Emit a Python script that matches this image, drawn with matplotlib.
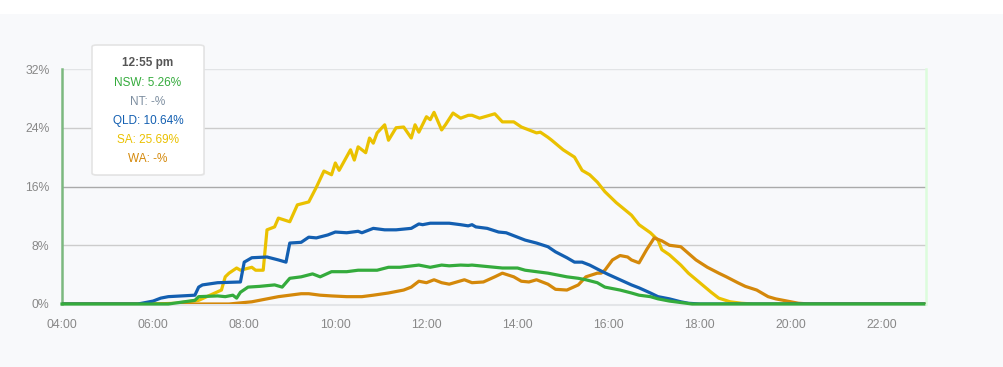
import matplotlib
matplotlib.use("Agg")
import matplotlib.pyplot as plt
from matplotlib.patches import FancyBboxPatch, Rectangle

plt.rcParams['font.family'] = ['Liberation Sans', 'DejaVu Sans']

# ---------------- data (percent of demand, by time of day) ----------------
nsw_times = ["04:00", "06:20", "06:55", "07:00", "07:25", "07:35", "07:45", "07:50", "07:55", "08:05",
             "08:20", "08:40", "08:50", "09:00", "09:15", "09:30", "09:40", "09:55", "10:15", "10:30",
             "10:55", "11:10", "11:25", "11:50", "12:05", "12:20", "12:30", "12:45", "12:55", "13:00",
             "13:10", "13:30", "13:40", "14:00", "14:10", "14:25", "14:40", "14:50", "15:05", "15:20",
             "15:30", "15:45", "15:55", "16:15", "16:30", "16:40", "16:55", "17:05", "17:20", "17:35",
             "17:50", "22:55"]
nsw_vals = [0, 0, 0.5, 1.0, 1.1, 1.0, 1.2, 0.8, 1.6, 2.3,
            2.4, 2.6, 2.3, 3.5, 3.7, 4.1, 3.7, 4.4, 4.4, 4.6,
            4.6, 5.0, 5.0, 5.3, 5.0, 5.3, 5.2, 5.3, 5.26, 5.3,
            5.2, 5.0, 4.9, 4.9, 4.6, 4.4, 4.2, 4.0, 3.7, 3.5,
            3.3, 2.9, 2.3, 1.9, 1.5, 1.2, 1.0, 0.7, 0.4, 0.2,
            0, 0]

qld_times = ["04:00", "05:40", "06:00", "06:10", "06:20", "06:55", "07:00", "07:05", "07:25", "07:55",
             "08:00", "08:05", "08:10", "08:30", "08:45", "08:55", "09:00", "09:15", "09:25", "09:35",
             "09:50", "10:00", "10:15", "10:30", "10:35", "10:50", "11:05", "11:20", "11:40", "11:50",
             "11:55", "12:05", "12:15", "12:30", "12:45", "12:55", "13:00", "13:05", "13:20", "13:35",
             "13:45", "14:00", "14:10", "14:25", "14:40", "14:50", "15:05", "15:15", "15:25", "15:35",
             "15:50", "16:00", "16:15", "16:30", "16:40", "16:55", "17:05", "17:20", "17:35", "17:45",
             "18:00", "22:55"]
qld_vals = [0, 0, 0.4, 0.8, 1.0, 1.2, 2.3, 2.6, 2.9, 3.0,
            5.7, 6.0, 6.3, 6.4, 6.0, 5.7, 8.3, 8.4, 9.1, 9.0,
            9.4, 9.8, 9.7, 9.9, 9.7, 10.3, 10.1, 10.1, 10.3, 10.9,
            10.8, 11.0, 11.0, 11.0, 10.8, 10.64, 10.8, 10.5, 10.3, 9.8,
            9.7, 9.1, 8.7, 8.3, 7.8, 7.1, 6.3, 5.7, 5.7, 5.3,
            4.5, 4.0, 3.3, 2.6, 2.2, 1.5, 1.0, 0.7, 0.3, 0.1,
            0, 0]

sa_times = ["04:00", "06:00", "06:30", "07:00", "07:30", "07:35", "07:40", "07:50", "07:55", "08:10",
            "08:15", "08:25", "08:30", "08:40", "08:45", "09:00", "09:10", "09:25", "09:35", "09:45",
            "09:55", "10:00", "10:05", "10:20", "10:25", "10:30", "10:40", "10:45", "10:50", "10:55",
            "11:05", "11:10", "11:20", "11:30", "11:40", "11:45", "11:50", "12:00", "12:05", "12:10",
            "12:20", "12:25", "12:35", "12:45", "12:55", "13:00", "13:10", "13:30", "13:40", "13:55",
            "14:05", "14:15", "14:25", "14:30", "14:40", "14:45", "15:00", "15:15", "15:25", "15:35",
            "15:45", "15:55", "16:10", "16:30", "16:40", "16:55", "17:05", "17:10", "17:20", "17:35",
            "17:45", "18:00", "18:15", "18:25", "18:40", "18:55", "19:10", "22:55"]
sa_vals = [0, 0, 0.1, 0.5, 1.9, 3.7, 4.2, 4.9, 4.6, 5.0,
           4.6, 4.6, 10.1, 10.5, 11.7, 11.2, 13.5, 13.9, 15.9, 18.1,
           17.6, 19.2, 18.2, 21.0, 19.6, 21.4, 20.6, 22.6, 21.9, 23.3,
           24.4, 22.3, 24.0, 24.1, 22.6, 24.4, 23.4, 25.5, 25.1, 26.1,
           23.7, 24.4, 26.0, 25.3, 25.69, 25.7, 25.3, 25.9, 24.8, 24.8,
           24.1, 23.7, 23.3, 23.4, 22.7, 22.3, 21.0, 20.0, 18.2, 17.6,
           16.6, 15.3, 13.8, 12.1, 10.8, 9.7, 8.7, 7.4, 6.7, 5.3,
           4.2, 2.9, 1.6, 0.8, 0.3, 0.1, 0, 0]

wa_times = ["04:00", "07:40", "08:10", "08:30", "08:45", "09:15", "09:25", "09:40", "09:55", "10:15",
            "10:35", "10:50", "11:10", "11:30", "11:40", "11:50", "12:00", "12:10", "12:20", "12:30",
            "12:50", "13:00", "13:15", "13:30", "13:40", "13:55", "14:05", "14:15", "14:25", "14:40",
            "14:50", "15:05", "15:20", "15:30", "15:45", "15:50", "15:55", "16:05", "16:15", "16:25",
            "16:30", "16:40", "16:50", "17:00", "17:10", "17:20", "17:35", "17:45", "17:55", "18:10",
            "18:25", "18:35", "18:50", "19:00", "19:15", "19:30", "19:40", "19:55", "20:10", "20:25",
            "22:55"]
wa_vals = [0, 0, 0.3, 0.7, 1.0, 1.4, 1.4, 1.2, 1.1, 1.0,
           1.0, 1.2, 1.5, 1.9, 2.3, 3.1, 2.9, 3.3, 2.9, 2.7,
           3.3, 2.9, 3.0, 3.7, 4.2, 3.7, 3.1, 3.0, 3.3, 2.7,
           2.0, 1.9, 2.6, 3.7, 4.2, 4.2, 4.6, 6.0, 6.6, 6.4,
           6.0, 5.6, 7.4, 9.0, 8.6, 8.0, 7.8, 6.9, 6.0, 5.0,
           4.2, 3.7, 2.9, 2.4, 1.9, 1.0, 0.7, 0.4, 0.1, 0,
           0]

y_ticks = [0, 8, 16, 24, 32]
x_tick_labels = ["04:00", "06:00", "08:00", "10:00", "12:00", "14:00", "16:00", "18:00", "20:00", "22:00"]

tooltip_title = "12:55 pm"
tooltip_lines = ["NSW: 5.26%", "NT: -%", "QLD: 10.64%", "SA: 25.69%", "WA: -%"]

# ---------------- styling ----------------
C_NSW = "#34ab3c"
C_NT = "#7d8ea0"
C_QLD = "#135fb1"
C_SA = "#eac100"
C_WA = "#d4880a"
BG = "#f8f9fb"


def hours(ts):
    out = []
    for t in ts:
        h, m = t.split(":")
        out.append(int(h) + int(m) / 60.0)
    return out


W, H = 1004, 367
fig = plt.figure(figsize=(W / 100, H / 100), dpi=100, facecolor=BG)
fig.add_artist(Rectangle((0, (H - 14) / H), 1, 14 / H, transform=fig.transFigure,
                         facecolor="white", edgecolor="none", zorder=0))

x0, x1 = 62, 926
y_top, y_bot = 69, 304
ax = fig.add_axes([x0 / W, (H - y_bot) / H, (x1 - x0) / W, (y_bot - y_top) / H])
ax.set_facecolor(BG)

xmax = 4 + (x1 - x0) / ((882 - 62) / 18.0)
ax.set_xlim(4, xmax)
ax.set_ylim(0, 32)

for v in y_ticks[1:]:
    col = "#aaaaaa" if v == 16 else ("#e2e4e6" if v == 32 else "#cccccc")
    ax.axhline(v, color=col, lw=1.0, zorder=1)

ax.axhline(-0.1, color="#e3e5e8", lw=1.5, zorder=1, clip_on=False)

lw = 2.3
ax.plot(hours(sa_times), sa_vals, color=C_SA, lw=lw, zorder=3, solid_joinstyle="round")
ax.plot(hours(wa_times), wa_vals, color=C_WA, lw=lw, zorder=4, solid_joinstyle="round")
ax.plot(hours(qld_times), qld_vals, color=C_QLD, lw=lw, zorder=5, solid_joinstyle="round")
ax.plot(hours(nsw_times), nsw_vals, color=C_NSW, lw=lw, zorder=6, solid_joinstyle="round", clip_on=False)

for s in ax.spines.values():
    s.set_visible(False)
ax.axvline(4, color="#7cb87f", lw=1.8, zorder=2, clip_on=False)
ax.axvline(xmax, color="#dcfcdc", lw=1.8, zorder=2, clip_on=False)

ax.set_yticks(y_ticks)
ax.set_yticklabels([f"{v}%" for v in y_ticks])
ax.set_xticks([4 + 2 * i for i in range(len(x_tick_labels))])
ax.set_xticklabels(x_tick_labels)
ax.tick_params(axis="both", length=0, colors="#888888", labelsize=8.8)
ax.tick_params(axis="y", pad=9)
ax.tick_params(axis="x", pad=11)

# ---------------- tooltip ----------------
bx, by, bw, bh = 92, 45, 112, 130


def fx(px):
    return px / W


def fy(py):
    return (H - py) / H


shadow = FancyBboxPatch((fx(bx + 1), fy(by + bh + 1)), bw / W, bh / H,
                        boxstyle="round,pad=0,rounding_size=0.005",
                        transform=fig.transFigure, facecolor="#000000", alpha=0.04,
                        edgecolor="none", zorder=9)
fig.add_artist(shadow)
box = FancyBboxPatch((fx(bx), fy(by + bh)), bw / W, bh / H,
                     boxstyle="round,pad=0,rounding_size=0.005",
                     transform=fig.transFigure, facecolor="white",
                     edgecolor="#e4e4e4", lw=1.2, zorder=10)
fig.add_artist(box)

cx = fx(148)
fig.text(cx, fy(63), tooltip_title, ha="center", va="center", fontsize=8.5,
         fontweight="bold", color="#555555", zorder=11)
line_colors = [C_NSW, C_NT, C_QLD, C_SA, C_WA]
for i, (txt, c) in enumerate(zip(tooltip_lines, line_colors)):
    fig.text(cx, fy(83 + 19 * i), txt, ha="center", va="center", fontsize=8.5,
             color=c, zorder=11)

fig.savefig("out.png", dpi=100, facecolor=BG)
